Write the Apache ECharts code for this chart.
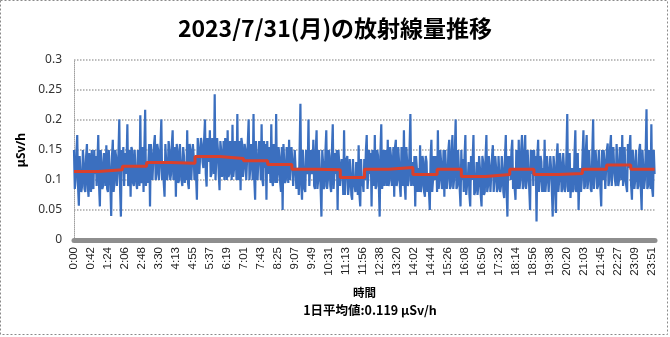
<!DOCTYPE html>
<html>
<head>
<meta charset="utf-8">
<script src="https://cdn.jsdelivr.net/npm/echarts@6/dist/echarts.min.js"></script>
<style>
html,body{margin:0;padding:0;background:#fff;}
#c{width:670px;height:337px;}
</style>
</head>
<body>
<div id="c"></div>
<script>
const titleText = '2023/7/31(月)の放射線量推移';
const avgText = '1日平均値:0.119 μSv/h';
const yAxisName = 'μSv/h';
const xAxisName = '時間';

const tickLabels = ['0:00','0:42','1:24','2:06','2:48','3:30','4:13','4:55','5:37','6:19','7:01','7:43','8:25','9:07','9:49','10:31','11:13','11:56','12:38','13:20','14:02','14:44','15:26','16:08','16:50','17:32','18:14','18:56','19:38','20:20','21:03','21:45','22:27','23:09','23:51'];

// hourly averages (red step line)
const hourAvg = [0.114,0.117,0.123,0.129,0.128,0.139,0.136,0.132,0.126,0.118,0.117,0.104,0.118,0.121,0.109,0.118,0.106,0.109,0.118,0.109,0.111,0.118,0.125,0.118];

// measured dose rate across the day (blue line), one row per hour
const doseRate = [
0.15,0.085,0.10,0.145,0.175,0.09,0.057,0.14,0.14,0.08,0.09,0.15,0.13,0.085,0.08,0.14,0.16,0.09,0.072,0.145,0.12,0.08,0.15,0.09,0.085,0.15,0.11,0.14,0.09,0.13,
0.175,0.09,0.056,0.15,0.13,0.085,0.09,0.145,0.13,0.09,0.158,0.085,0.08,0.15,0.125,0.09,0.04,0.14,0.167,0.08,0.095,0.15,0.14,0.09,0.11,0.145,0.201,0.085,0.039,0.15,
0.12,0.155,0.09,0.145,0.11,0.13,0.193,0.09,0.10,0.15,0.072,0.155,0.15,0.095,0.09,0.15,0.12,0.095,0.085,0.15,0.13,0.09,0.208,0.095,0.10,0.155,0.08,0.15,0.217,0.09,
0.13,0.095,0.13,0.16,0.056,0.16,0.14,0.10,0.10,0.16,0.175,0.10,0.11,0.16,0.15,0.10,0.12,0.16,0.201,0.10,0.13,0.095,0.072,0.16,0.16,0.10,0.11,0.165,0.15,0.10,
0.11,0.16,0.183,0.10,0.12,0.155,0.072,0.16,0.15,0.095,0.10,0.16,0.16,0.10,0.09,0.155,0.14,0.095,0.13,0.10,0.183,0.095,0.085,0.16,0.15,0.10,0.10,0.16,0.14,0.10,
0.14,0.105,0.067,0.17,0.15,0.11,0.11,0.17,0.16,0.13,0.12,0.17,0.201,0.11,0.089,0.17,0.15,0.13,0.183,0.105,0.11,0.17,0.14,0.11,0.243,0.10,0.10,0.17,0.15,0.11,
0.083,0.165,0.15,0.105,0.12,0.165,0.10,0.17,0.14,0.10,0.183,0.105,0.11,0.165,0.15,0.10,0.192,0.105,0.12,0.165,0.14,0.10,0.21,0.10,0.11,0.165,0.083,0.17,0.16,0.105,
0.12,0.16,0.15,0.10,0.10,0.165,0.201,0.10,0.12,0.16,0.14,0.10,0.21,0.10,0.067,0.165,0.13,0.10,0.10,0.165,0.15,0.10,0.193,0.10,0.09,0.165,0.12,0.16,0.067,0.165,
0.11,0.155,0.14,0.095,0.193,0.10,0.09,0.16,0.13,0.095,0.21,0.095,0.11,0.155,0.14,0.095,0.08,0.155,0.05,0.16,0.13,0.095,0.10,0.155,0.14,0.095,0.167,0.10,0.10,0.155,
0.13,0.09,0.09,0.15,0.12,0.085,0.11,0.12,0.075,0.15,0.227,0.09,0.067,0.15,0.12,0.085,0.08,0.15,0.11,0.12,0.201,0.09,0.09,0.15,0.11,0.12,0.167,0.09,0.085,0.15,
0.183,0.085,0.10,0.15,0.12,0.085,0.039,0.15,0.13,0.085,0.09,0.15,0.183,0.085,0.10,0.15,0.14,0.09,0.08,0.15,0.193,0.085,0.11,0.145,0.11,0.15,0.05,0.15,0.13,0.09,
0.09,0.135,0.12,0.075,0.183,0.075,0.075,0.135,0.14,0.075,0.09,0.135,0.11,0.075,0.067,0.135,0.10,0.09,0.08,0.13,0.12,0.075,0.158,0.075,0.056,0.135,0.09,0.10,0.08,0.135,
0.10,0.15,0.175,0.085,0.11,0.15,0.11,0.145,0.056,0.15,0.12,0.09,0.175,0.085,0.09,0.15,0.14,0.09,0.039,0.15,0.193,0.085,0.10,0.15,0.09,0.15,0.12,0.09,0.167,0.09,
0.10,0.155,0.14,0.09,0.11,0.155,0.072,0.155,0.167,0.09,0.10,0.155,0.13,0.09,0.072,0.155,0.12,0.09,0.183,0.09,0.067,0.155,0.13,0.09,0.10,0.155,0.21,0.09,0.11,0.13,
0.09,0.14,0.056,0.14,0.12,0.08,0.12,0.08,0.158,0.08,0.09,0.14,0.13,0.08,0.072,0.14,0.13,0.08,0.11,0.08,0.05,0.14,0.167,0.08,0.10,0.14,0.10,0.14,0.13,0.08,
0.183,0.085,0.10,0.15,0.13,0.085,0.09,0.15,0.072,0.15,0.12,0.085,0.10,0.15,0.167,0.085,0.09,0.15,0.175,0.085,0.10,0.15,0.201,0.085,0.09,0.15,0.12,0.085,0.056,0.15,
0.10,0.135,0.08,0.14,0.175,0.075,0.09,0.10,0.13,0.075,0.056,0.14,0.10,0.135,0.175,0.075,0.08,0.10,0.13,0.075,0.09,0.14,0.12,0.075,0.056,0.14,0.13,0.075,0.08,0.14,
0.175,0.08,0.09,0.14,0.12,0.08,0.08,0.14,0.158,0.08,0.10,0.14,0.12,0.08,0.085,0.14,0.11,0.08,0.09,0.14,0.12,0.08,0.07,0.14,0.175,0.08,0.039,0.14,0.11,0.14,
0.10,0.15,0.167,0.085,0.12,0.085,0.067,0.15,0.13,0.085,0.167,0.085,0.10,0.15,0.175,0.085,0.09,0.15,0.175,0.085,0.10,0.15,0.12,0.085,0.05,0.15,0.11,0.15,0.09,0.15,
0.11,0.14,0.031,0.14,0.167,0.08,0.10,0.14,0.13,0.08,0.12,0.08,0.167,0.08,0.10,0.14,0.14,0.08,0.11,0.14,0.12,0.08,0.039,0.14,0.125,0.08,0.045,0.14,0.161,0.08,
0.10,0.145,0.13,0.08,0.085,0.145,0.12,0.08,0.09,0.145,0.21,0.08,0.10,0.145,0.07,0.10,0.12,0.08,0.085,0.145,0.183,0.08,0.09,0.145,0.05,0.10,0.12,0.08,0.10,0.145,
0.183,0.085,0.09,0.15,0.175,0.085,0.10,0.15,0.12,0.085,0.08,0.15,0.201,0.085,0.11,0.15,0.13,0.085,0.09,0.15,0.12,0.085,0.056,0.15,0.10,0.15,0.13,0.085,0.085,0.15,
0.161,0.09,0.10,0.155,0.175,0.09,0.12,0.155,0.12,0.10,0.09,0.16,0.13,0.09,0.10,0.155,0.12,0.10,0.175,0.09,0.11,0.155,0.10,0.10,0.08,0.16,0.12,0.155,0.175,0.09,
0.067,0.15,0.13,0.085,0.10,0.15,0.15,0.085,0.09,0.15,0.16,0.085,0.05,0.15,0.12,0.085,0.10,0.15,0.218,0.085,0.09,0.15,0.12,0.085,0.193,0.085,0.072,0.15,0.11
];

// layout parameters (index units of the category axis)
const TOTAL_POINTS = 1437;
const LABEL_EVERY = 42;
const SAMPLE_STEP = 2;
const HOUR_STEP = TOTAL_POINTS / 24;

const blueData = doseRate.map((v, i) => [i * SAMPLE_STEP, v]);
const redData = hourAvg.map((v, h) => [h * HOUR_STEP, v]);
redData.push([TOTAL_POINTS - 1, hourAvg[hourAvg.length - 1]]);

const chart = echarts.init(document.getElementById('c'), null, {renderer: 'canvas'});
chart.setOption({
  animation: false,
  backgroundColor: '#ffffff',
  title: {
    text: titleText, left: 'center', top: 12,
    textStyle: {fontFamily: '"Noto Sans CJK JP", sans-serif', fontSize: 23, fontWeight: 'bold', color: '#000'}
  },
  grid: {left: 74, right: 15, top: 60, bottom: 97, containLabel: false},
  xAxis: {
    type: 'value', min: 0, max: TOTAL_POINTS, interval: LABEL_EVERY,
    name: xAxisName, nameLocation: 'middle', nameGap: 47,
    nameTextStyle: {fontFamily: '"Noto Sans CJK JP", sans-serif', fontSize: 11.5, fontWeight: 'bold', color: '#000'},
    axisLine: {show: true, onZero: false, lineStyle: {color: '#8e8e8e', width: 5}},
    axisTick: {show: false},
    splitLine: {show: false},
    axisLabel: {
      rotate: 90, margin: 7, fontSize: 11.5, color: '#222',
      fontFamily: '"Liberation Sans", sans-serif',
      showMaxLabel: false,
      formatter: function (v) {
        const k = Math.round(v / LABEL_EVERY);
        return (Math.abs(v - k * LABEL_EVERY) < 1e-6 && k < tickLabels.length) ? tickLabels[k] : '';
      }
    }
  },
  yAxis: {
    type: 'value', min: 0, max: 0.3, interval: 0.05,
    name: yAxisName, nameLocation: 'middle', nameGap: 39, nameRotate: 90,
    nameTextStyle: {fontFamily: '"Noto Sans", sans-serif', fontSize: 12, fontWeight: 'bold', color: '#000'},
    axisLine: {show: true, lineStyle: {color: '#a0a0a0', type: 'dotted', width: 1}},
    axisTick: {show: false},
    axisLabel: {fontSize: 12, color: '#333', margin: 12, fontFamily: '"Noto Sans", sans-serif'},
    splitLine: {show: true, lineStyle: {color: '#a8a8a8', type: 'dotted', width: 1.5}}
  },
  series: [
    {
      type: 'line', data: blueData, symbol: 'none', showSymbol: false,
      lineStyle: {color: '#3b6fbf', width: 2.2}, z: 2
    },
    {
      type: 'line', data: redData, step: 'end', symbol: 'none', showSymbol: false,
      lineStyle: {color: '#d9402c', width: 3}, z: 3
    }
  ],
  graphic: [
    {
      type: 'rect', silent: true, z: -1,
      shape: {x: 0.5, y: 0.5, width: 667, height: 334},
      style: {fill: 'none', stroke: '#8a8a8a', lineWidth: 1, lineDash: [2, 2]}
    },
    {
      type: 'text', silent: true, x: 370, y: 310,
      style: {
        text: avgText, align: 'center', verticalAlign: 'middle',
        font: 'bold 12.5px "Noto Sans CJK JP", sans-serif', fill: '#000'
      }
    }
  ]
});
</script>
</body>
</html>
